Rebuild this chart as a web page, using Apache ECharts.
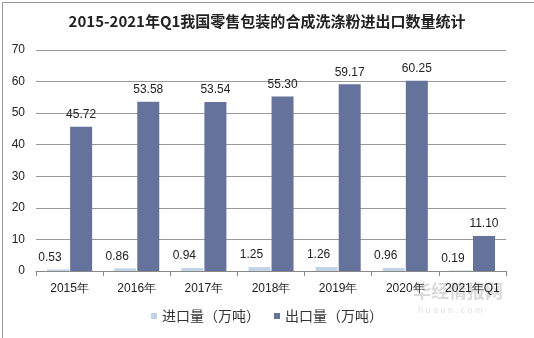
<!DOCTYPE html>
<html>
<head>
<meta charset="utf-8">
<script src="https://cdn.jsdelivr.net/npm/echarts@6/dist/echarts.min.js"></script>
<style>
  html, body { margin: 0; padding: 0; background: #fff; }
  #chart { width: 534px; height: 338px; }
</style>
</head>
<body>
<div id="chart"></div>
<script>
// 2015–2021Q1 retail-packaged synthetic detergent powder trade volumes
const categories = ['2015年', '2016年', '2017年', '2018年', '2019年', '2020年', '2021年Q1'];
const importVolume = [0.53, 0.86, 0.94, 1.25, 1.26, 0.96, 0.19];
const exportVolume = [45.72, 53.58, 53.54, 55.30, 59.17, 60.25, 11.10];
const yTicks = [0, 10, 20, 30, 40, 50, 60, 70];

const chart = echarts.init(document.getElementById('chart'), null, { renderer: 'canvas' });
const font = '"Liberation Sans", Arial, sans-serif';

chart.setOption({
  backgroundColor: '#fff',
  animation: false,
  title: {
    text: '2015-2021年Q1我国零售包装的合成洗涤粉进出口数量统计',
    left: 'center',
    top: 9,
    textStyle: { fontFamily: '"Noto Sans CJK SC"', fontSize: 15, fontWeight: 'bold', color: '#222' }
  },
  legend: {
    top: 304,
    left: 'center',
    itemWidth: 6,
    itemHeight: 6,
    itemGap: 14,
    icon: 'rect',
    textStyle: { fontFamily: '"Noto Sans CJK SC"', fontSize: 14, color: '#333' },
    data: ['进口量（万吨）', '出口量（万吨）']
  },
  grid: { left: 36, right: 28, top: 50, bottom: 67 },
  xAxis: {
    type: 'category',
    data: categories,
    axisLine: { lineStyle: { color: '#888' } },
    axisTick: { show: true, interval: 0, length: 5, lineStyle: { color: '#888' } },
    axisLabel: { interval: 0, color: '#222', fontFamily: font, fontSize: 12, margin: 12 }
  },
  yAxis: {
    type: 'value',
    min: yTicks[0],
    max: yTicks[yTicks.length - 1],
    interval: 10,
    axisLine: { show: false },
    axisTick: { show: false },
    axisLabel: { color: '#222', fontFamily: font, fontSize: 12, margin: 11 },
    splitLine: { lineStyle: { color: '#9a9a9a' } }
  },
  series: [
    {
      name: '进口量（万吨）',
      type: 'bar',
      data: importVolume,
      barWidth: 22,
      barGap: '5%',
      itemStyle: { color: '#c3d3e6' },
      label: {
        show: true, position: 'top', offset: [-8, -1],
        color: '#222', fontFamily: font, fontSize: 12,
        formatter: p => p.value.toFixed(2)
      }
    },
    {
      name: '出口量（万吨）',
      type: 'bar',
      data: exportVolume,
      barWidth: 22,
      itemStyle: { color: '#65729c' },
      label: {
        show: true, position: 'top', offset: [0, -1],
        color: '#222', fontFamily: font, fontSize: 12,
        formatter: p => p.value.toFixed(2)
      }
    }
  ],
  graphic: [
    {
      type: 'rect', left: 0, top: 0, silent: true,
      shape: { x: 0.5, y: 0.5, width: 533, height: 337 },
      style: { fill: 'none', stroke: '#999', lineWidth: 1 }
    },
    {
      type: 'text', left: 413, top: 282, silent: true,
      style: { text: '华经情报网', fill: 'rgba(150,150,150,0.35)', font: 'bold 18px "Noto Sans CJK SC"' }
    },
    {
      type: 'text', left: 418, top: 306, silent: true,
      style: { text: 'h u a o n . c o m', fill: 'rgba(150,150,150,0.3)', font: '9px "Liberation Sans"' }
    }
  ]
});
</script>
</body>
</html>
